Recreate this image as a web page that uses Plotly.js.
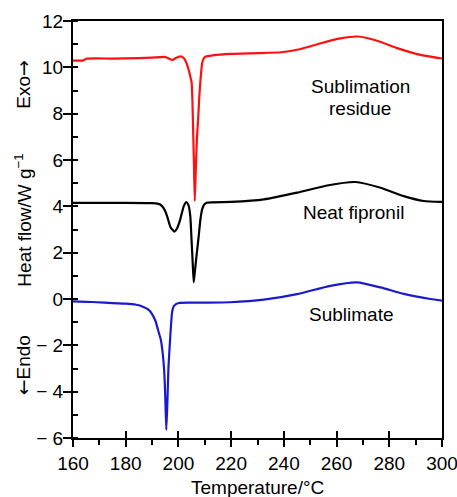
<!DOCTYPE html>
<html>
<head>
<meta charset="utf-8">
<script src="https://cdn.plot.ly/plotly-3.0.1.min.js"></script>
<style>html,body{margin:0;padding:0;background:#fff;}#chart{width:457px;height:497px;}</style>
</head>
<body>
<div id="chart"></div>
<script>
// Sublimation residue (red)
var residueT = [160,164,165,175,185,190,193,194.5,196,197.8,199,200.7,202,203,204,204.5,205.0,205.3,205.6,205.9,206.2,206.6,207.0,207.5,207.9,208.4,209.0,209.6,210.2,213,220,230,239,246,254,261.5,268,275.4,283,291.8,300];
var residueH = [10.29,10.30,10.37,10.38,10.40,10.42,10.44,10.45,10.40,10.32,10.40,10.47,10.40,10.2,9.85,9.6,9.35,8.6,7.2,5.8,4.23,5.6,6.9,7.8,8.7,9.5,10.18,10.38,10.46,10.52,10.58,10.61,10.65,10.78,11.04,11.25,11.33,11.15,10.83,10.54,10.38];

// Neat fipronil (black)
var neatT = [160,180,190,192,193.1,194.5,195.7,197,198.5,199.5,200.7,202,203.0,203.8,204.5,205.0,205.4,205.8,206.3,206.8,207.7,208.3,209.0,209.8,210.9,220,232.4,245,256.4,267.2,276.7,285.5,293.1,300];
var neatH = [4.15,4.15,4.14,4.12,4.08,3.9,3.58,3.1,2.91,3.05,3.44,4.0,4.18,4.05,3.58,2.5,1.6,0.72,1.25,1.8,2.72,3.4,3.87,4.08,4.16,4.19,4.30,4.59,4.90,5.05,4.80,4.44,4.23,4.19];

// Sublimate (blue)
var sublimateT = [160,165,169,175,180,184,186.5,188.5,190,191.3,192.3,193.3,194.0,194.6,195.0,195.4,195.8,196.2,196.7,197.2,197.6,198.3,200.1,210,219.6,232.4,245,257.6,267.8,276.7,285.5,295.6,300];
var sublimateH = [-0.10,-0.12,-0.14,-0.18,-0.20,-0.25,-0.33,-0.45,-0.65,-0.95,-1.35,-1.75,-2.3,-3.1,-4.2,-5.65,-4.5,-3.0,-2.0,-1.1,-0.57,-0.30,-0.17,-0.16,-0.14,-0.03,0.21,0.57,0.72,0.50,0.22,0.0,-0.07];

var xTickVals = [160,180,200,220,240,260,280,300];
var xTickText = ['160','180','200','220','240','260','280','300'];
var yTickVals = [-6,-4,-2,0,2,4,6,8,10,12];
var yTickText = ['\u2212 6','\u2212 4','\u2212 2','0','2','4','6','8','10','12'];

var FONT = 'Liberation Sans, Arial, Helvetica, sans-serif';
var FS = 19;
var ARROW_R = '<span style="font-family:DejaVu Sans">\u2192</span>';
var ARROW_L = '<span style="font-family:DejaVu Sans">\u2190</span>';

function lineStyle(c){ return {color:c, width:2.2, shape:'spline', smoothing:0.5}; }

var traces = [
  {x: residueT, y: residueH, mode:'lines', line:lineStyle('#ff1010'), showlegend:false, hoverinfo:'skip'},
  {x: neatT, y: neatH, mode:'lines', line:lineStyle('#000000'), showlegend:false, hoverinfo:'skip'},
  {x: sublimateT, y: sublimateH, mode:'lines', line:lineStyle('#1a1acc'), showlegend:false, hoverinfo:'skip'},
  {x:[160], y:[0], xaxis:'x2', yaxis:'y', mode:'markers', marker:{opacity:0}, showlegend:false, hoverinfo:'skip'},
  {x:[160], y:[0], xaxis:'x', yaxis:'y2', mode:'markers', marker:{opacity:0}, showlegend:false, hoverinfo:'skip'}
];

var layout = {
  width:457, height:497,
  margin:{l:73, r:15, t:21, b:59},
  paper_bgcolor:'#ffffff', plot_bgcolor:'#ffffff',
  font:{family:FONT, size:FS, color:'#000'},
  showlegend:false,
  xaxis:{
    range:[160,300], tickmode:'array', tickvals:xTickVals, ticktext:xTickText,
    showline:true, linecolor:'#000', linewidth:2, mirror:true,
    ticks:'outside', ticklen:7, tickwidth:2, tickcolor:'#000',
    minor:{tickmode:'linear', tick0:160, dtick:10, ticks:'outside', ticklen:5, tickwidth:2, tickcolor:'#000', showgrid:false},
    showgrid:false, zeroline:false, ticklabeloverflow:'allow',
    tickfont:{family:FONT, size:FS, color:'#000'}
  },
  xaxis2:{
    range:[160,300], overlaying:'x', anchor:'y', side:'bottom',
    tickmode:'array', tickvals:xTickVals, showticklabels:false,
    ticks:'inside', ticklen:7, tickwidth:2, tickcolor:'#000',
    showline:false, showgrid:false, zeroline:false
  },
  yaxis:{
    range:[-6,12], tickmode:'array', tickvals:yTickVals, ticktext:yTickText,
    showline:true, linecolor:'#000', linewidth:2, mirror:true,
    ticks:'outside', ticklen:8, tickwidth:2, tickcolor:'#000',
    minor:{tickmode:'linear', tick0:0, dtick:1, ticks:'inside', ticklen:4.5, tickwidth:2, tickcolor:'#000', showgrid:false},
    showgrid:false, zeroline:false, ticklabelstandoff:-4, ticklabeloverflow:'allow',
    tickfont:{family:FONT, size:FS, color:'#000'}
  },
  yaxis2:{
    range:[-6,12], overlaying:'y', anchor:'x', side:'left',
    tickmode:'array', tickvals:yTickVals, showticklabels:false,
    ticks:'inside', ticklen:4.5, tickwidth:2, tickcolor:'#000',
    showline:false, showgrid:false, zeroline:false
  },
  annotations:[
    {text:'Sublimation', x:268.9, y:9.16, xref:'x', yref:'y', xanchor:'center', yanchor:'middle', showarrow:false, font:{family:FONT, size:FS, color:'#000'}},
    {text:'residue', x:268.9, y:8.22, xref:'x', yref:'y', xanchor:'center', yanchor:'middle', showarrow:false, font:{family:FONT, size:FS, color:'#000'}},
    {text:'Neat fipronil', x:266.4, y:3.74, xref:'x', yref:'y', xanchor:'center', yanchor:'middle', showarrow:false, font:{family:FONT, size:FS, color:'#000'}},
    {text:'Sublimate', x:265.8, y:-0.65, xref:'x', yref:'y', xanchor:'center', yanchor:'middle', showarrow:false, font:{family:FONT, size:FS, color:'#000'}},
    {text:'Temperature/\u00b0C', x:0.5, y:-0.088, xref:'paper', yref:'paper', xanchor:'center', yanchor:'top', showarrow:false, font:{family:FONT, size:FS, color:'#000'}},
    {text:'Exo' + ARROW_R, x:-0.1346, y:0.848, xref:'paper', yref:'paper', xanchor:'center', yanchor:'middle', textangle:-90, showarrow:false, font:{family:FONT, size:FS, color:'#000'}},
    {text:'Heat flow/W g<sup>\u22121</sup>', x:-0.1346, y:0.522, xref:'paper', yref:'paper', xanchor:'center', yanchor:'middle', textangle:-90, showarrow:false, font:{family:FONT, size:FS, color:'#000'}},
    {text:ARROW_L + 'Endo', x:-0.1346, y:0.175, xref:'paper', yref:'paper', xanchor:'center', yanchor:'middle', textangle:-90, showarrow:false, font:{family:FONT, size:FS, color:'#000'}}
  ]
};

Plotly.newPlot('chart', traces, layout, {displayModeBar:false, staticPlot:true});
</script>
</body>
</html>
